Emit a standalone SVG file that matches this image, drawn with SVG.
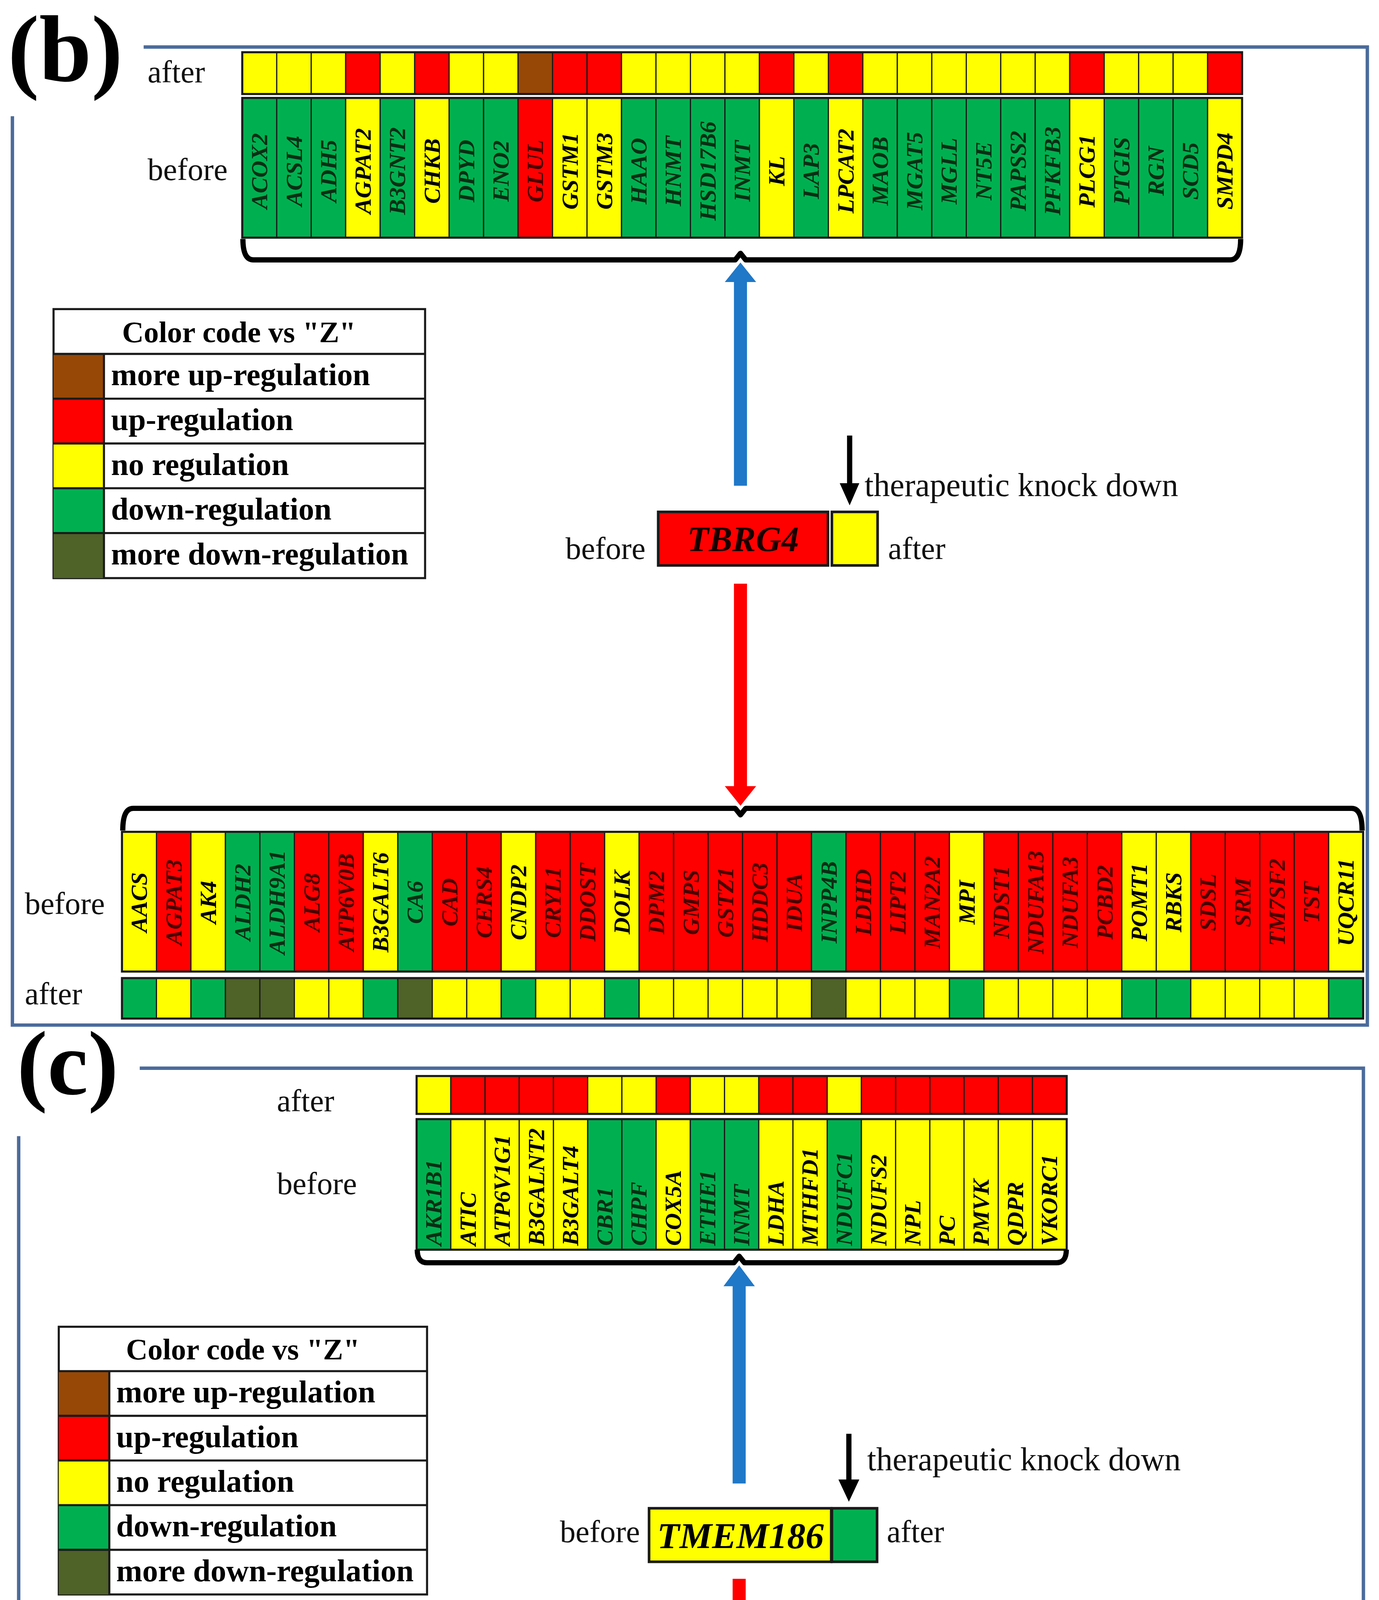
<svg xmlns="http://www.w3.org/2000/svg" width="3530" height="5239" viewBox="0 0 3530 5239">
<style>
.G{fill:#00b050}.Y{fill:#ffff00}.R{fill:#ff0000}.B{fill:#974806}.D{fill:#4f6228}
rect.c{stroke:#1a1a1a;stroke-width:0.9}
.g{font-family:"Liberation Serif",serif;font-style:italic;font-weight:bold;font-size:18px}
.m{text-anchor:middle}
.tG{fill:#0a2e14}.tY{fill:#000}.tR{fill:#4a0000}
.lbl{font-family:"Liberation Serif",serif;font-size:24px;fill:#111}
.leg{font-family:"Liberation Serif",serif;font-weight:bold;font-size:24px;fill:#000}
.frame{fill:none;stroke:#4a6b9b;stroke-width:2.6}
.br{fill:none;stroke:#000;stroke-width:4;stroke-linejoin:round}
.row{fill:none;stroke:#1a1a1a;stroke-width:1.6}
.pl{font-family:"Liberation Serif",serif;font-weight:bold;fill:#000}
</style>
<rect width="3530" height="5239" fill="#fff"/>
<g transform="scale(3.343)">
<!-- Panel b frame and label -->
<g id="panel-b-frame">
<polyline class="frame" points="110,36 1047,36 1047,785 9.5,785 9.5,89"/>
<text class="pl" x="6" y="62" style="font-size:72px">(b)</text>
</g>
<!-- Panel b top genes -->
<g id="b-top-genes" class="g m">
<text class="lbl" x="113" y="63" style="font-style:normal;font-weight:normal;text-anchor:start">after</text>
<text class="lbl" x="113" y="138" style="font-style:normal;font-weight:normal;text-anchor:start">before</text>
<g transform="translate(185.5)"><rect class="c Y" y="40" width="26.4" height="32"/><rect class="c G" y="75" width="26.4" height="107"/><text class="tG" transform="translate(19.2,131) rotate(-90)">ACOX2</text></g>
<g transform="translate(211.9)"><rect class="c Y" y="40" width="26.4" height="32"/><rect class="c G" y="75" width="26.4" height="107"/><text class="tG" transform="translate(19.2,131) rotate(-90)">ACSL4</text></g>
<g transform="translate(238.3)"><rect class="c Y" y="40" width="26.4" height="32"/><rect class="c G" y="75" width="26.4" height="107"/><text class="tG" transform="translate(19.2,131) rotate(-90)">ADH5</text></g>
<g transform="translate(264.7)"><rect class="c R" y="40" width="26.4" height="32"/><rect class="c Y" y="75" width="26.4" height="107"/><text class="tY" transform="translate(19.2,131) rotate(-90)">AGPAT2</text></g>
<g transform="translate(291.1)"><rect class="c Y" y="40" width="26.4" height="32"/><rect class="c G" y="75" width="26.4" height="107"/><text class="tG" transform="translate(19.2,131) rotate(-90)">B3GNT2</text></g>
<g transform="translate(317.5)"><rect class="c R" y="40" width="26.4" height="32"/><rect class="c Y" y="75" width="26.4" height="107"/><text class="tY" transform="translate(19.2,131) rotate(-90)">CHKB</text></g>
<g transform="translate(343.9)"><rect class="c Y" y="40" width="26.4" height="32"/><rect class="c G" y="75" width="26.4" height="107"/><text class="tG" transform="translate(19.2,131) rotate(-90)">DPYD</text></g>
<g transform="translate(370.3)"><rect class="c Y" y="40" width="26.4" height="32"/><rect class="c G" y="75" width="26.4" height="107"/><text class="tG" transform="translate(19.2,131) rotate(-90)">ENO2</text></g>
<g transform="translate(396.7)"><rect class="c B" y="40" width="26.4" height="32"/><rect class="c R" y="75" width="26.4" height="107"/><text class="tR" transform="translate(19.2,131) rotate(-90)">GLUL</text></g>
<g transform="translate(423.1)"><rect class="c R" y="40" width="26.4" height="32"/><rect class="c Y" y="75" width="26.4" height="107"/><text class="tY" transform="translate(19.2,131) rotate(-90)">GSTM1</text></g>
<g transform="translate(449.5)"><rect class="c R" y="40" width="26.4" height="32"/><rect class="c Y" y="75" width="26.4" height="107"/><text class="tY" transform="translate(19.2,131) rotate(-90)">GSTM3</text></g>
<g transform="translate(475.9)"><rect class="c Y" y="40" width="26.4" height="32"/><rect class="c G" y="75" width="26.4" height="107"/><text class="tG" transform="translate(19.2,131) rotate(-90)">HAAO</text></g>
<g transform="translate(502.3)"><rect class="c Y" y="40" width="26.4" height="32"/><rect class="c G" y="75" width="26.4" height="107"/><text class="tG" transform="translate(19.2,131) rotate(-90)">HNMT</text></g>
<g transform="translate(528.7)"><rect class="c Y" y="40" width="26.4" height="32"/><rect class="c G" y="75" width="26.4" height="107"/><text class="tG" transform="translate(19.2,131) rotate(-90)">HSD17B6</text></g>
<g transform="translate(555.1)"><rect class="c Y" y="40" width="26.4" height="32"/><rect class="c G" y="75" width="26.4" height="107"/><text class="tG" transform="translate(19.2,131) rotate(-90)">INMT</text></g>
<g transform="translate(581.5)"><rect class="c R" y="40" width="26.4" height="32"/><rect class="c Y" y="75" width="26.4" height="107"/><text class="tY" transform="translate(19.2,131) rotate(-90)">KL</text></g>
<g transform="translate(607.9)"><rect class="c Y" y="40" width="26.4" height="32"/><rect class="c G" y="75" width="26.4" height="107"/><text class="tG" transform="translate(19.2,131) rotate(-90)">LAP3</text></g>
<g transform="translate(634.3)"><rect class="c R" y="40" width="26.4" height="32"/><rect class="c Y" y="75" width="26.4" height="107"/><text class="tY" transform="translate(19.2,131) rotate(-90)">LPCAT2</text></g>
<g transform="translate(660.7)"><rect class="c Y" y="40" width="26.4" height="32"/><rect class="c G" y="75" width="26.4" height="107"/><text class="tG" transform="translate(19.2,131) rotate(-90)">MAOB</text></g>
<g transform="translate(687.1)"><rect class="c Y" y="40" width="26.4" height="32"/><rect class="c G" y="75" width="26.4" height="107"/><text class="tG" transform="translate(19.2,131) rotate(-90)">MGAT5</text></g>
<g transform="translate(713.5)"><rect class="c Y" y="40" width="26.4" height="32"/><rect class="c G" y="75" width="26.4" height="107"/><text class="tG" transform="translate(19.2,131) rotate(-90)">MGLL</text></g>
<g transform="translate(739.9)"><rect class="c Y" y="40" width="26.4" height="32"/><rect class="c G" y="75" width="26.4" height="107"/><text class="tG" transform="translate(19.2,131) rotate(-90)">NT5E</text></g>
<g transform="translate(766.3)"><rect class="c Y" y="40" width="26.4" height="32"/><rect class="c G" y="75" width="26.4" height="107"/><text class="tG" transform="translate(19.2,131) rotate(-90)">PAPSS2</text></g>
<g transform="translate(792.7)"><rect class="c Y" y="40" width="26.4" height="32"/><rect class="c G" y="75" width="26.4" height="107"/><text class="tG" transform="translate(19.2,131) rotate(-90)">PFKFB3</text></g>
<g transform="translate(819.1)"><rect class="c R" y="40" width="26.4" height="32"/><rect class="c Y" y="75" width="26.4" height="107"/><text class="tY" transform="translate(19.2,131) rotate(-90)">PLCG1</text></g>
<g transform="translate(845.5)"><rect class="c Y" y="40" width="26.4" height="32"/><rect class="c G" y="75" width="26.4" height="107"/><text class="tG" transform="translate(19.2,131) rotate(-90)">PTGIS</text></g>
<g transform="translate(871.9)"><rect class="c Y" y="40" width="26.4" height="32"/><rect class="c G" y="75" width="26.4" height="107"/><text class="tG" transform="translate(19.2,131) rotate(-90)">RGN</text></g>
<g transform="translate(898.3)"><rect class="c Y" y="40" width="26.4" height="32"/><rect class="c G" y="75" width="26.4" height="107"/><text class="tG" transform="translate(19.2,131) rotate(-90)">SCD5</text></g>
<g transform="translate(924.7)"><rect class="c R" y="40" width="26.4" height="32"/><rect class="c Y" y="75" width="26.4" height="107"/><text class="tY" transform="translate(19.2,131) rotate(-90)">SMPD4</text></g>
<rect class="row" x="185.5" y="40" width="765.6" height="32"/><rect class="row" x="185.5" y="75" width="765.6" height="107"/>
</g>
<!-- Panel b legend -->
<g id="b-legend">
<rect x="41" y="236.7" width="284.5" height="206" fill="#fff" stroke="#1a1a1a" stroke-width="1.6"/>
<rect class="B" x="41" y="271" width="38.6" height="34.3"/>
<rect class="R" x="41" y="305.3" width="38.6" height="34.3"/>
<rect class="Y" x="41" y="339.6" width="38.6" height="34.3"/>
<rect class="G" x="41" y="373.9" width="38.6" height="34.3"/>
<rect class="D" x="41" y="408.2" width="38.6" height="34.5"/>
<path d="M41,271H325.5M41,305.3H325.5M41,339.6H325.5M41,373.9H325.5M41,408.2H325.5M79.6,271V442.7" stroke="#1a1a1a" stroke-width="1.6"/>
<text class="leg m" x="183" y="262" style="font-size:23px">Color code vs "Z"</text>
<text class="leg" x="85" y="295">more up-regulation</text>
<text class="leg" x="85" y="329.3">up-regulation</text>
<text class="leg" x="85" y="363.6">no regulation</text>
<text class="leg" x="85" y="397.9">down-regulation</text>
<text class="leg" x="85" y="432.2">more down-regulation</text>
</g>
<!-- Panel b center node -->
<g id="b-node-TBRG4">
<rect x="504" y="392" width="130" height="41" fill="#ff0000" stroke="#1a1a1a" stroke-width="2"/>
<rect x="637" y="392" width="35" height="41" fill="#ffff00" stroke="#1a1a1a" stroke-width="2"/>
<text class="g m" x="569" y="422" style="font-size:27px;fill:#1a0000">TBRG4</text>
<text class="lbl" x="433" y="428">before</text>
<text class="lbl" x="680" y="428">after</text>
<text class="lbl" x="662" y="380" style="font-size:25px">therapeutic knock down</text>
</g>
<!-- Panel b bottom genes -->
<g id="b-bottom-genes" class="g m">
<text class="lbl" x="19" y="700" style="font-style:normal;font-weight:normal;text-anchor:start">before</text>
<text class="lbl" x="19" y="769" style="font-style:normal;font-weight:normal;text-anchor:start">after</text>
<g transform="translate(93.4)"><rect class="c Y" y="637" width="26.4" height="107"/><rect class="c G" y="749" width="26.4" height="31"/><text class="tY" transform="translate(19.2,691) rotate(-90)">AACS</text></g>
<g transform="translate(119.8)"><rect class="c R" y="637" width="26.4" height="107"/><rect class="c Y" y="749" width="26.4" height="31"/><text class="tR" transform="translate(19.2,691) rotate(-90)">AGPAT3</text></g>
<g transform="translate(146.2)"><rect class="c Y" y="637" width="26.4" height="107"/><rect class="c G" y="749" width="26.4" height="31"/><text class="tY" transform="translate(19.2,691) rotate(-90)">AK4</text></g>
<g transform="translate(172.6)"><rect class="c G" y="637" width="26.4" height="107"/><rect class="c D" y="749" width="26.4" height="31"/><text class="tG" transform="translate(19.2,691) rotate(-90)">ALDH2</text></g>
<g transform="translate(199)"><rect class="c G" y="637" width="26.4" height="107"/><rect class="c D" y="749" width="26.4" height="31"/><text class="tG" transform="translate(19.2,691) rotate(-90)">ALDH9A1</text></g>
<g transform="translate(225.4)"><rect class="c R" y="637" width="26.4" height="107"/><rect class="c Y" y="749" width="26.4" height="31"/><text class="tR" transform="translate(19.2,691) rotate(-90)">ALG8</text></g>
<g transform="translate(251.8)"><rect class="c R" y="637" width="26.4" height="107"/><rect class="c Y" y="749" width="26.4" height="31"/><text class="tR" transform="translate(19.2,691) rotate(-90)">ATP6V0B</text></g>
<g transform="translate(278.2)"><rect class="c Y" y="637" width="26.4" height="107"/><rect class="c G" y="749" width="26.4" height="31"/><text class="tY" transform="translate(19.2,691) rotate(-90)">B3GALT6</text></g>
<g transform="translate(304.6)"><rect class="c G" y="637" width="26.4" height="107"/><rect class="c D" y="749" width="26.4" height="31"/><text class="tG" transform="translate(19.2,691) rotate(-90)">CA6</text></g>
<g transform="translate(331)"><rect class="c R" y="637" width="26.4" height="107"/><rect class="c Y" y="749" width="26.4" height="31"/><text class="tR" transform="translate(19.2,691) rotate(-90)">CAD</text></g>
<g transform="translate(357.4)"><rect class="c R" y="637" width="26.4" height="107"/><rect class="c Y" y="749" width="26.4" height="31"/><text class="tR" transform="translate(19.2,691) rotate(-90)">CERS4</text></g>
<g transform="translate(383.8)"><rect class="c Y" y="637" width="26.4" height="107"/><rect class="c G" y="749" width="26.4" height="31"/><text class="tY" transform="translate(19.2,691) rotate(-90)">CNDP2</text></g>
<g transform="translate(410.2)"><rect class="c R" y="637" width="26.4" height="107"/><rect class="c Y" y="749" width="26.4" height="31"/><text class="tR" transform="translate(19.2,691) rotate(-90)">CRYL1</text></g>
<g transform="translate(436.6)"><rect class="c R" y="637" width="26.4" height="107"/><rect class="c Y" y="749" width="26.4" height="31"/><text class="tR" transform="translate(19.2,691) rotate(-90)">DDOST</text></g>
<g transform="translate(463)"><rect class="c Y" y="637" width="26.4" height="107"/><rect class="c G" y="749" width="26.4" height="31"/><text class="tY" transform="translate(19.2,691) rotate(-90)">DOLK</text></g>
<g transform="translate(489.4)"><rect class="c R" y="637" width="26.4" height="107"/><rect class="c Y" y="749" width="26.4" height="31"/><text class="tR" transform="translate(19.2,691) rotate(-90)">DPM2</text></g>
<g transform="translate(515.8)"><rect class="c R" y="637" width="26.4" height="107"/><rect class="c Y" y="749" width="26.4" height="31"/><text class="tR" transform="translate(19.2,691) rotate(-90)">GMPS</text></g>
<g transform="translate(542.2)"><rect class="c R" y="637" width="26.4" height="107"/><rect class="c Y" y="749" width="26.4" height="31"/><text class="tR" transform="translate(19.2,691) rotate(-90)">GSTZ1</text></g>
<g transform="translate(568.6)"><rect class="c R" y="637" width="26.4" height="107"/><rect class="c Y" y="749" width="26.4" height="31"/><text class="tR" transform="translate(19.2,691) rotate(-90)">HDDC3</text></g>
<g transform="translate(595)"><rect class="c R" y="637" width="26.4" height="107"/><rect class="c Y" y="749" width="26.4" height="31"/><text class="tR" transform="translate(19.2,691) rotate(-90)">IDUA</text></g>
<g transform="translate(621.4)"><rect class="c G" y="637" width="26.4" height="107"/><rect class="c D" y="749" width="26.4" height="31"/><text class="tG" transform="translate(19.2,691) rotate(-90)">INPP4B</text></g>
<g transform="translate(647.8)"><rect class="c R" y="637" width="26.4" height="107"/><rect class="c Y" y="749" width="26.4" height="31"/><text class="tR" transform="translate(19.2,691) rotate(-90)">LDHD</text></g>
<g transform="translate(674.2)"><rect class="c R" y="637" width="26.4" height="107"/><rect class="c Y" y="749" width="26.4" height="31"/><text class="tR" transform="translate(19.2,691) rotate(-90)">LIPT2</text></g>
<g transform="translate(700.6)"><rect class="c R" y="637" width="26.4" height="107"/><rect class="c Y" y="749" width="26.4" height="31"/><text class="tR" transform="translate(19.2,691) rotate(-90)">MAN2A2</text></g>
<g transform="translate(727)"><rect class="c Y" y="637" width="26.4" height="107"/><rect class="c G" y="749" width="26.4" height="31"/><text class="tY" transform="translate(19.2,691) rotate(-90)">MPI</text></g>
<g transform="translate(753.4)"><rect class="c R" y="637" width="26.4" height="107"/><rect class="c Y" y="749" width="26.4" height="31"/><text class="tR" transform="translate(19.2,691) rotate(-90)">NDST1</text></g>
<g transform="translate(779.8)"><rect class="c R" y="637" width="26.4" height="107"/><rect class="c Y" y="749" width="26.4" height="31"/><text class="tR" transform="translate(19.2,691) rotate(-90)">NDUFA13</text></g>
<g transform="translate(806.2)"><rect class="c R" y="637" width="26.4" height="107"/><rect class="c Y" y="749" width="26.4" height="31"/><text class="tR" transform="translate(19.2,691) rotate(-90)">NDUFA3</text></g>
<g transform="translate(832.6)"><rect class="c R" y="637" width="26.4" height="107"/><rect class="c Y" y="749" width="26.4" height="31"/><text class="tR" transform="translate(19.2,691) rotate(-90)">PCBD2</text></g>
<g transform="translate(859)"><rect class="c Y" y="637" width="26.4" height="107"/><rect class="c G" y="749" width="26.4" height="31"/><text class="tY" transform="translate(19.2,691) rotate(-90)">POMT1</text></g>
<g transform="translate(885.4)"><rect class="c Y" y="637" width="26.4" height="107"/><rect class="c G" y="749" width="26.4" height="31"/><text class="tY" transform="translate(19.2,691) rotate(-90)">RBKS</text></g>
<g transform="translate(911.8)"><rect class="c R" y="637" width="26.4" height="107"/><rect class="c Y" y="749" width="26.4" height="31"/><text class="tR" transform="translate(19.2,691) rotate(-90)">SDSL</text></g>
<g transform="translate(938.2)"><rect class="c R" y="637" width="26.4" height="107"/><rect class="c Y" y="749" width="26.4" height="31"/><text class="tR" transform="translate(19.2,691) rotate(-90)">SRM</text></g>
<g transform="translate(964.6)"><rect class="c R" y="637" width="26.4" height="107"/><rect class="c Y" y="749" width="26.4" height="31"/><text class="tR" transform="translate(19.2,691) rotate(-90)">TM7SF2</text></g>
<g transform="translate(991)"><rect class="c R" y="637" width="26.4" height="107"/><rect class="c Y" y="749" width="26.4" height="31"/><text class="tR" transform="translate(19.2,691) rotate(-90)">TST</text></g>
<g transform="translate(1017.4)"><rect class="c Y" y="637" width="26.4" height="107"/><rect class="c G" y="749" width="26.4" height="31"/><text class="tY" transform="translate(19.2,691) rotate(-90)">UQCR11</text></g>
<rect class="row" x="93.4" y="637" width="950.4" height="107"/><rect class="row" x="93.4" y="749" width="950.4" height="31"/>
</g>
<!-- Panel c frame and label -->
<g id="panel-c-frame">
<polyline class="frame" points="107,818 1044,818 1044,1561.5 14.3,1561.5 14.3,870"/>
<text class="pl" x="13" y="838" style="font-size:70px">(c)</text>
</g>
<!-- Panel c top genes -->
<g id="c-top-genes" class="g">
<text class="lbl" x="212" y="851" style="font-style:normal;font-weight:normal">after</text>
<text class="lbl" x="212" y="914.5" style="font-style:normal;font-weight:normal">before</text>
<g transform="translate(319)"><rect class="c Y" y="824" width="26.2" height="29"/><rect class="c G" y="857" width="26.2" height="100"/><text class="tG" transform="translate(19,954) rotate(-90)">AKR1B1</text></g>
<g transform="translate(345.2)"><rect class="c R" y="824" width="26.2" height="29"/><rect class="c Y" y="857" width="26.2" height="100"/><text class="tY" transform="translate(19,954) rotate(-90)">ATIC</text></g>
<g transform="translate(371.4)"><rect class="c R" y="824" width="26.2" height="29"/><rect class="c Y" y="857" width="26.2" height="100"/><text class="tY" transform="translate(19,954) rotate(-90)">ATP6V1G1</text></g>
<g transform="translate(397.6)"><rect class="c R" y="824" width="26.2" height="29"/><rect class="c Y" y="857" width="26.2" height="100"/><text class="tY" transform="translate(19,954) rotate(-90)">B3GALNT2</text></g>
<g transform="translate(423.8)"><rect class="c R" y="824" width="26.2" height="29"/><rect class="c Y" y="857" width="26.2" height="100"/><text class="tY" transform="translate(19,954) rotate(-90)">B3GALT4</text></g>
<g transform="translate(450)"><rect class="c Y" y="824" width="26.2" height="29"/><rect class="c G" y="857" width="26.2" height="100"/><text class="tG" transform="translate(19,954) rotate(-90)">CBR1</text></g>
<g transform="translate(476.2)"><rect class="c Y" y="824" width="26.2" height="29"/><rect class="c G" y="857" width="26.2" height="100"/><text class="tG" transform="translate(19,954) rotate(-90)">CHPF</text></g>
<g transform="translate(502.4)"><rect class="c R" y="824" width="26.2" height="29"/><rect class="c Y" y="857" width="26.2" height="100"/><text class="tY" transform="translate(19,954) rotate(-90)">COX5A</text></g>
<g transform="translate(528.6)"><rect class="c Y" y="824" width="26.2" height="29"/><rect class="c G" y="857" width="26.2" height="100"/><text class="tG" transform="translate(19,954) rotate(-90)">ETHE1</text></g>
<g transform="translate(554.8)"><rect class="c Y" y="824" width="26.2" height="29"/><rect class="c G" y="857" width="26.2" height="100"/><text class="tG" transform="translate(19,954) rotate(-90)">INMT</text></g>
<g transform="translate(581)"><rect class="c R" y="824" width="26.2" height="29"/><rect class="c Y" y="857" width="26.2" height="100"/><text class="tY" transform="translate(19,954) rotate(-90)">LDHA</text></g>
<g transform="translate(607.2)"><rect class="c R" y="824" width="26.2" height="29"/><rect class="c Y" y="857" width="26.2" height="100"/><text class="tY" transform="translate(19,954) rotate(-90)">MTHFD1</text></g>
<g transform="translate(633.4)"><rect class="c Y" y="824" width="26.2" height="29"/><rect class="c G" y="857" width="26.2" height="100"/><text class="tG" transform="translate(19,954) rotate(-90)">NDUFC1</text></g>
<g transform="translate(659.6)"><rect class="c R" y="824" width="26.2" height="29"/><rect class="c Y" y="857" width="26.2" height="100"/><text class="tY" transform="translate(19,954) rotate(-90)">NDUFS2</text></g>
<g transform="translate(685.8)"><rect class="c R" y="824" width="26.2" height="29"/><rect class="c Y" y="857" width="26.2" height="100"/><text class="tY" transform="translate(19,954) rotate(-90)">NPL</text></g>
<g transform="translate(712)"><rect class="c R" y="824" width="26.2" height="29"/><rect class="c Y" y="857" width="26.2" height="100"/><text class="tY" transform="translate(19,954) rotate(-90)">PC</text></g>
<g transform="translate(738.2)"><rect class="c R" y="824" width="26.2" height="29"/><rect class="c Y" y="857" width="26.2" height="100"/><text class="tY" transform="translate(19,954) rotate(-90)">PMVK</text></g>
<g transform="translate(764.4)"><rect class="c R" y="824" width="26.2" height="29"/><rect class="c Y" y="857" width="26.2" height="100"/><text class="tY" transform="translate(19,954) rotate(-90)">QDPR</text></g>
<g transform="translate(790.6)"><rect class="c R" y="824" width="26.2" height="29"/><rect class="c Y" y="857" width="26.2" height="100"/><text class="tY" transform="translate(19,954) rotate(-90)">VKORC1</text></g>
<rect class="row" x="319" y="824" width="497.8" height="29"/><rect class="row" x="319" y="857" width="497.8" height="100"/>
</g>
<!-- Panel c legend -->
<g id="c-legend">
<rect x="45" y="1016" width="282" height="205" fill="#fff" stroke="#1a1a1a" stroke-width="1.6"/>
<rect class="B" x="45" y="1050" width="38.7" height="34.2"/>
<rect class="R" x="45" y="1084.2" width="38.7" height="34.2"/>
<rect class="Y" x="45" y="1118.4" width="38.7" height="34.2"/>
<rect class="G" x="45" y="1152.6" width="38.7" height="34.2"/>
<rect class="D" x="45" y="1186.8" width="38.7" height="34.2"/>
<path d="M45,1050H327M45,1084.2H327M45,1118.4H327M45,1152.6H327M45,1186.8H327M83.7,1050V1221" stroke="#1a1a1a" stroke-width="1.6"/>
<text class="leg m" x="186" y="1041" style="font-size:23px">Color code vs "Z"</text>
<text class="leg" x="89" y="1074">more up-regulation</text>
<text class="leg" x="89" y="1108.2">up-regulation</text>
<text class="leg" x="89" y="1142.4">no regulation</text>
<text class="leg" x="89" y="1176.6">down-regulation</text>
<text class="leg" x="89" y="1210.8">more down-regulation</text>
</g>
<!-- Panel c center node -->
<g id="c-node-TMEM186">
<rect x="497" y="1155" width="139.5" height="41" fill="#ffff00" stroke="#1a1a1a" stroke-width="2"/>
<rect x="637" y="1155" width="34.6" height="41" fill="#00b050" stroke="#1a1a1a" stroke-width="2"/>
<text class="g m" x="567" y="1185.5" style="font-size:28px;fill:#000">TMEM186</text>
<text class="lbl" x="490" y="1181" text-anchor="end">before</text>
<text class="lbl" x="679" y="1181">after</text>
<text class="lbl" x="664" y="1126" style="font-size:25px">therapeutic knock down</text>
</g>
<!-- Panel c bottom genes -->
<g id="c-bottom-genes" class="g" style="font-size:17.5px">
<text class="lbl" x="212" y="1457" style="font-style:normal;font-weight:normal">before</text>
<text class="lbl" x="212" y="1504" style="font-style:normal;font-weight:normal">after</text>
<g transform="translate(293)"><rect class="c G" y="1391" width="26.2" height="91"/><rect class="c D" y="1485" width="26.2" height="27"/><text class="tG" transform="translate(19,1478) rotate(-90)">ACP1</text></g>
<g transform="translate(319.2)"><rect class="c Y" y="1391" width="26.2" height="91"/><rect class="c G" y="1485" width="26.2" height="27"/><text class="tY" transform="translate(19,1478) rotate(-90)">AGK</text></g>
<g transform="translate(345.4)"><rect class="c R" y="1391" width="26.2" height="91"/><rect class="c Y" y="1485" width="26.2" height="27"/><text class="tR" transform="translate(19,1478) rotate(-90)">AGPAT2</text></g>
<g transform="translate(371.6)"><rect class="c Y" y="1391" width="26.2" height="91"/><rect class="c G" y="1485" width="26.2" height="27"/><text class="tY" transform="translate(19,1478) rotate(-90)">B3GNT2</text></g>
<g transform="translate(397.8)"><rect class="c Y" y="1391" width="26.2" height="91"/><rect class="c G" y="1485" width="26.2" height="27"/><text class="tY" transform="translate(19,1478) rotate(-90)">EARS2</text></g>
<g transform="translate(424)"><rect class="c Y" y="1391" width="26.2" height="91"/><rect class="c G" y="1485" width="26.2" height="27"/><text class="tY" transform="translate(19,1478) rotate(-90)">ELOVL2</text></g>
<g transform="translate(450.2)"><rect class="c Y" y="1391" width="26.2" height="91"/><rect class="c G" y="1485" width="26.2" height="27"/><text class="tY" transform="translate(19,1478) rotate(-90)">FKRP</text></g>
<g transform="translate(476.4)"><rect class="c G" y="1391" width="26.2" height="91"/><rect class="c D" y="1485" width="26.2" height="27"/><text class="tG" transform="translate(19,1478) rotate(-90)">GALM</text></g>
<g transform="translate(502.6)"><rect class="c G" y="1391" width="26.2" height="91"/><rect class="c D" y="1485" width="26.2" height="27"/><text class="tG" transform="translate(19,1478) rotate(-90)">GLO1</text></g>
<g transform="translate(528.8)"><rect class="c Y" y="1391" width="26.2" height="91"/><rect class="c G" y="1485" width="26.2" height="27"/><text class="tY" transform="translate(19,1478) rotate(-90)">HSD17B11</text></g>
<g transform="translate(555)"><rect class="c R" y="1391" width="26.2" height="91"/><rect class="c Y" y="1485" width="26.2" height="27"/><text class="tR" transform="translate(19,1478) rotate(-90)">HSD17B3</text></g>
<g transform="translate(581.2)"><rect class="c Y" y="1391" width="26.2" height="91"/><rect class="c G" y="1485" width="26.2" height="27"/><text class="tY" transform="translate(19,1478) rotate(-90)">HSD17B4</text></g>
<g transform="translate(607.4)"><rect class="c R" y="1391" width="26.2" height="91"/><rect class="c Y" y="1485" width="26.2" height="27"/><text class="tR" transform="translate(19,1478) rotate(-90)">PDE8A</text></g>
<g transform="translate(633.6)"><rect class="c R" y="1391" width="26.2" height="91"/><rect class="c Y" y="1485" width="26.2" height="27"/><text class="tR" transform="translate(19,1478) rotate(-90)">PI4K2A</text></g>
<g transform="translate(659.8)"><rect class="c Y" y="1391" width="26.2" height="91"/><rect class="c G" y="1485" width="26.2" height="27"/><text class="tY" transform="translate(19,1478) rotate(-90)">PIGB</text></g>
<g transform="translate(686)"><rect class="c Y" y="1391" width="26.2" height="91"/><rect class="c G" y="1485" width="26.2" height="27"/><text class="tY" transform="translate(19,1478) rotate(-90)">PIGU</text></g>
<g transform="translate(712.2)"><rect class="c Y" y="1391" width="26.2" height="91"/><rect class="c G" y="1485" width="26.2" height="27"/><text class="tY" transform="translate(19,1478) rotate(-90)">PLCD1</text></g>
<g transform="translate(738.4)"><rect class="c R" y="1391" width="26.2" height="91"/><rect class="c Y" y="1485" width="26.2" height="27"/><text class="tR" transform="translate(19,1478) rotate(-90)">PLCE1</text></g>
<g transform="translate(764.6)"><rect class="c R" y="1391" width="26.2" height="91"/><rect class="c Y" y="1485" width="26.2" height="27"/><text class="tR" transform="translate(19,1478) rotate(-90)">RDH13</text></g>
<g transform="translate(790.8)"><rect class="c Y" y="1391" width="26.2" height="91"/><rect class="c G" y="1485" width="26.2" height="27"/><text class="tY" transform="translate(19,1478) rotate(-90)">ST3GAL1</text></g>
<g transform="translate(817)"><rect class="c R" y="1391" width="26.2" height="91"/><rect class="c Y" y="1485" width="26.2" height="27"/><text class="tR" transform="translate(19,1478) rotate(-90)">ST3GAL3</text></g>
<rect class="row" x="293" y="1391" width="550.2" height="91"/><rect class="row" x="293" y="1485" width="550.2" height="27"/>
</g>
<!-- Connectors -->
<g id="connectors">
<path class="br" d="M186,183 Q186,199 194,199 L563,199 L567,194 L571,199 L942,199 Q950,199 950,183"/>
<path class="br" d="M94,636 Q94,619 102,619 L563,619 L567,624 L571,619 L1035,619 Q1043,619 1043,636"/>
<path class="br" d="M319.5,957 Q319.5,967 327,967 L562,967 L566,962 L570,967 L809,967 Q816.5,967 816.5,957"/>
<path class="br" d="M293.5,1391 Q293.5,1379 301,1379 L562,1379 L566,1384 L570,1379 L835,1379 Q842.5,1379 842.5,1391"/>
<line x1="567" y1="372" x2="567" y2="214" stroke="#1f78c8" stroke-width="10"/>
<polygon points="555,216 579,216 567,201" fill="#1f78c8"/>
<line x1="567" y1="447" x2="567" y2="604" stroke="#ff0000" stroke-width="10"/>
<polygon points="555,602 579,602 567,617" fill="#ff0000"/>
<line x1="650.6" y1="333.5" x2="650.6" y2="372" stroke="#000" stroke-width="4"/>
<polygon points="643,370 658,370 650.6,387" fill="#000"/>
<line x1="566" y1="1136" x2="566" y2="983" stroke="#1f78c8" stroke-width="10"/>
<polygon points="554,985 578,985 566,969" fill="#1f78c8"/>
<line x1="566" y1="1209" x2="566" y2="1365" stroke="#ff0000" stroke-width="10"/>
<polygon points="554,1363 578,1363 566,1378" fill="#ff0000"/>
<line x1="650" y1="1098" x2="650" y2="1135" stroke="#000" stroke-width="4"/>
<polygon points="642,1133 658,1133 650,1150" fill="#000"/>
</g>
</g>
</svg>
